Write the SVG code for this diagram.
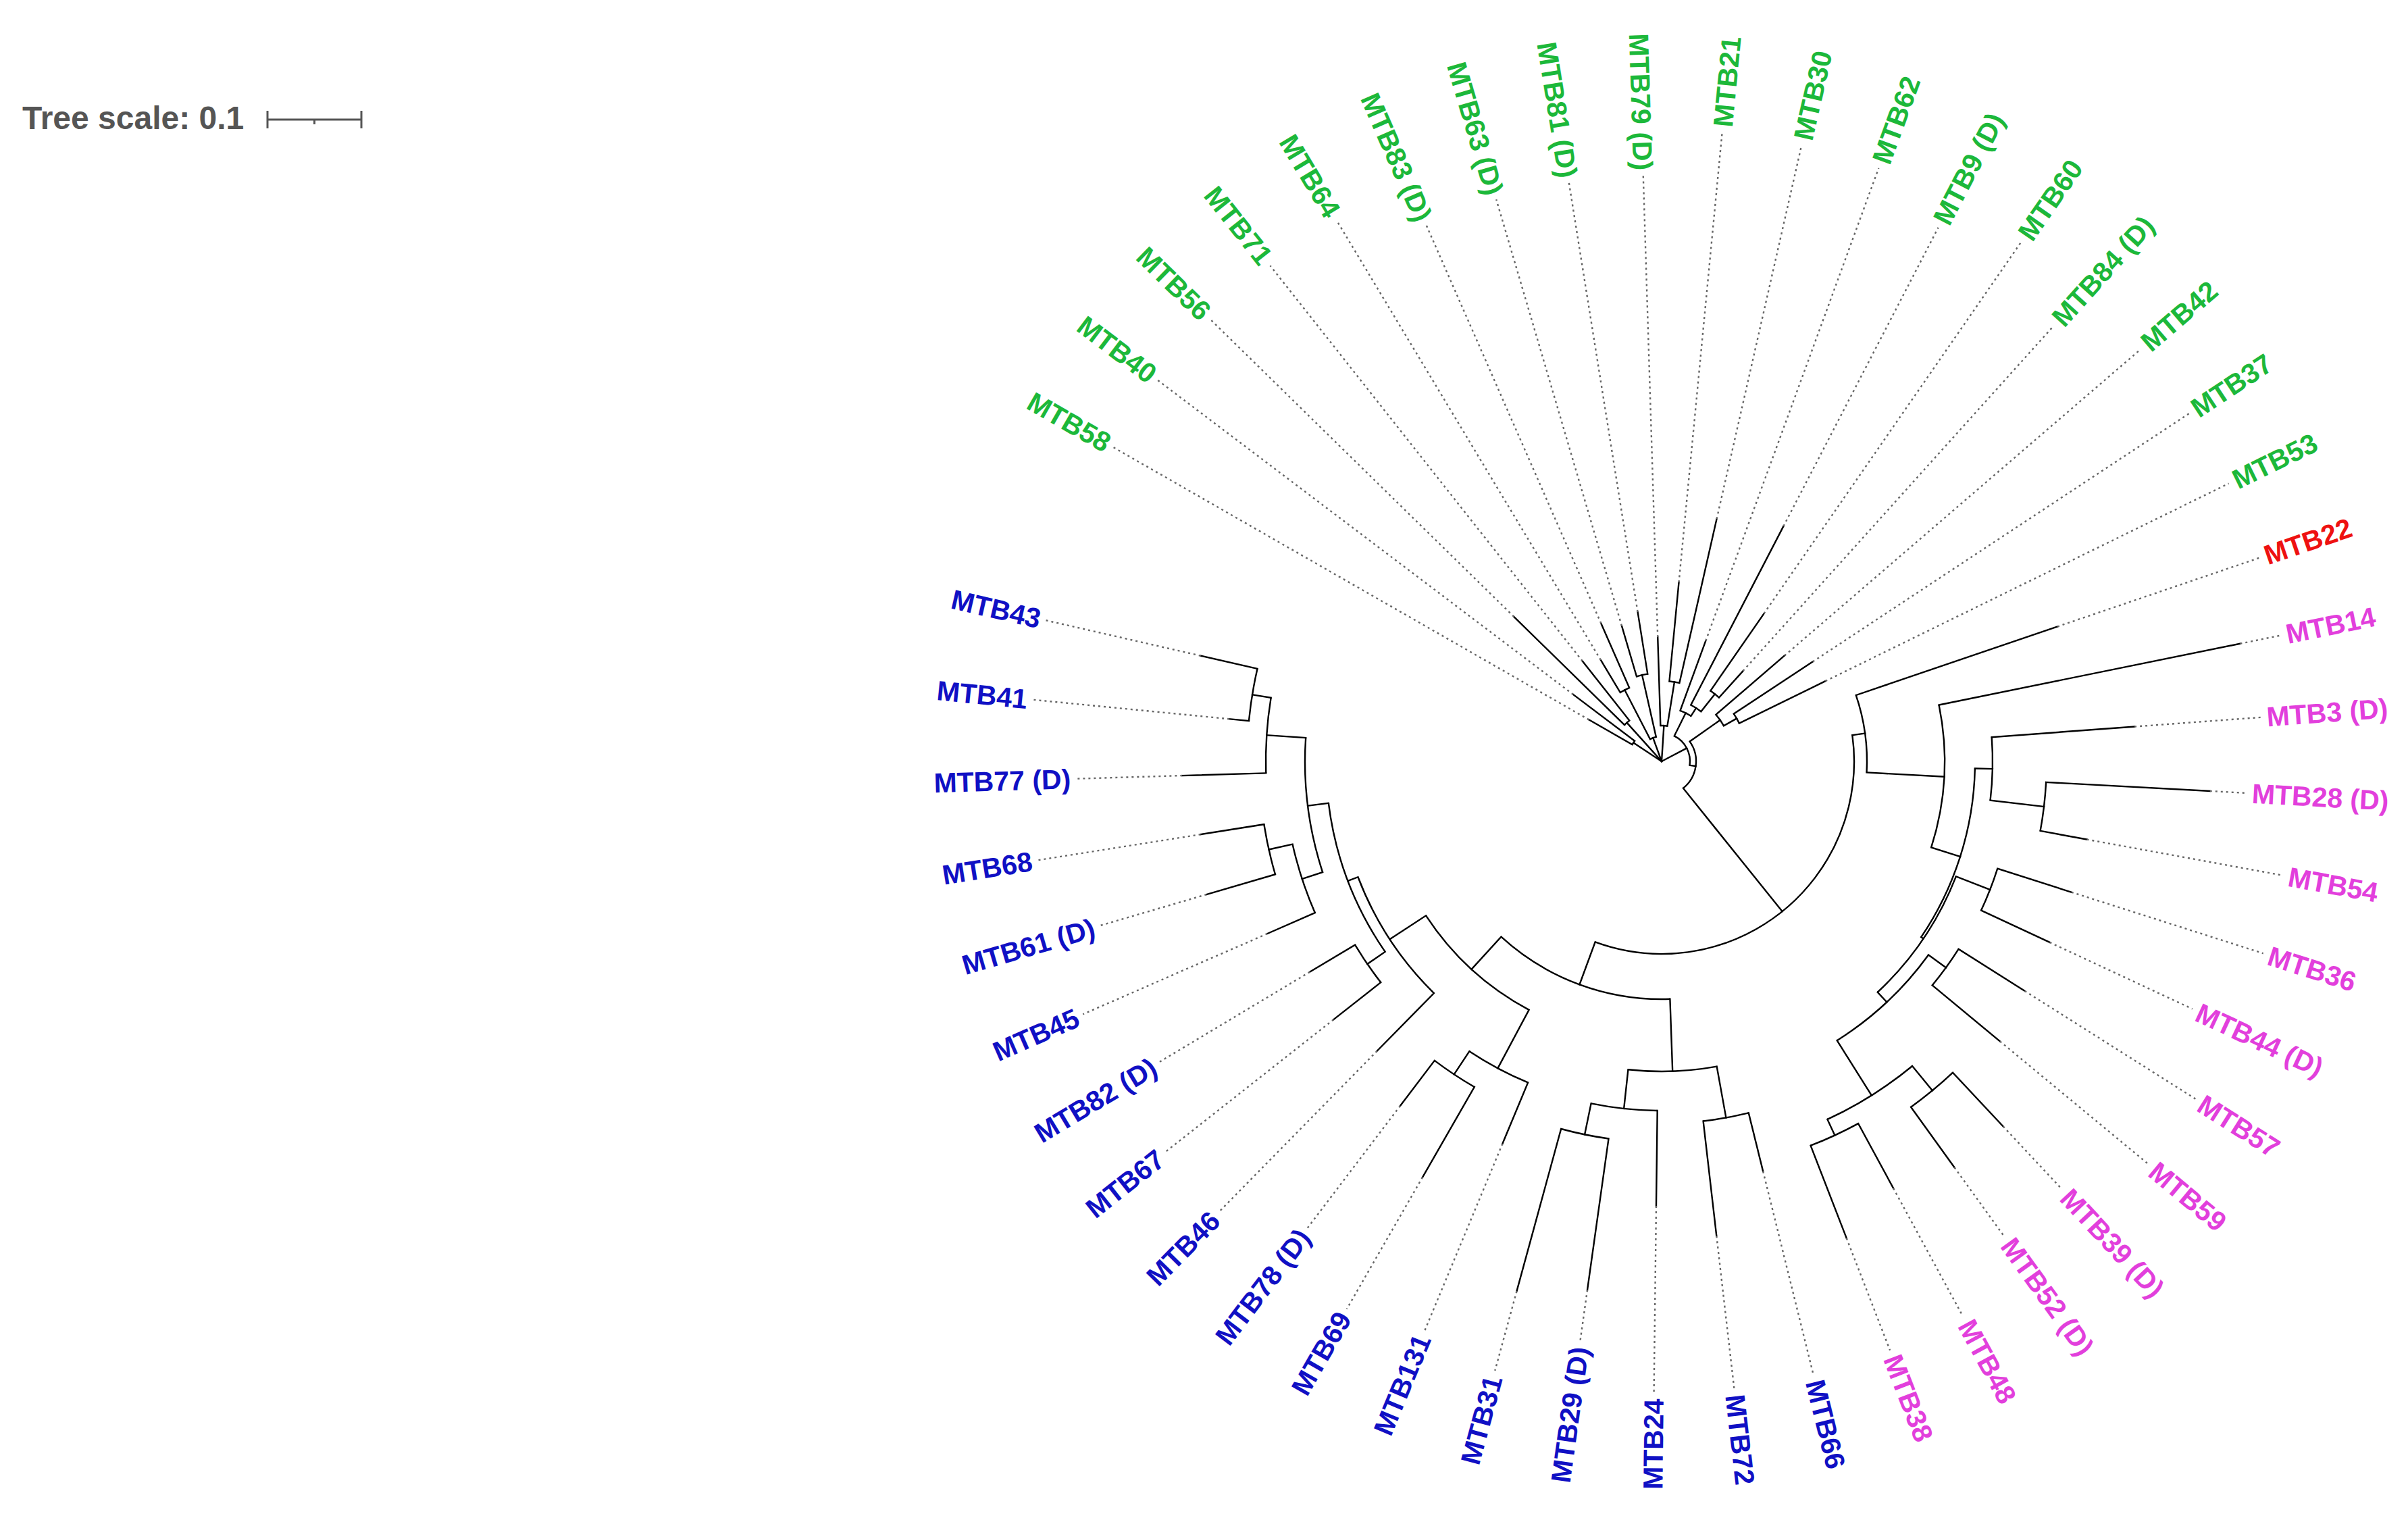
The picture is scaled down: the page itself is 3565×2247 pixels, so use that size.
<svg xmlns="http://www.w3.org/2000/svg" width="3565" height="2247" viewBox="0 0 3565 2247">
<style>
.br line{stroke:#000;stroke-width:2.4;fill:none;stroke-linecap:square}
.ar circle{stroke:#000;stroke-width:2.4;fill:none}
.dt line{stroke:#666;stroke-width:2.4;stroke-dasharray:3 5}
.lb{font-family:"Liberation Sans",Arial,sans-serif;font-weight:bold;font-size:41px}
.g{fill:#1cb83a}.b{fill:#1010c4}.m{fill:#e23fdc}.r{fill:#ee1111}
</style>
<rect width="3565" height="2247" fill="#fff"/>
<g id="tree-scale">
<text x="33" y="191" font-family="'Liberation Sans',Arial,sans-serif" font-weight="bold" font-size="48" fill="#555">Tree scale: 0.1</text>
<g stroke="#555" stroke-width="3">
<line x1="396" y1="177" x2="535" y2="177"/>
<line x1="396" y1="164" x2="396" y2="190"/>
<line x1="535" y1="164" x2="535" y2="190"/>
<line x1="465.5" y1="177" x2="465.5" y2="184"/>
</g>
</g>
<g transform="translate(2460 1127)">
<g id="connectors">
<g class="br">
<line x1="0" x2="50" transform="rotate(213.45)"/>
<line x1="50" x2="124" transform="rotate(209.8)"/>
<line x1="50" x2="164" transform="rotate(217.1)"/>
<line x1="0" x2="77" transform="rotate(228.05)"/>
<line x1="77" x2="306" transform="rotate(224.4)"/>
<line x1="77" x2="189" transform="rotate(231.7)"/>
<line x1="0" x2="37" transform="rotate(249.95)"/>
<line x1="37" x2="119" transform="rotate(242.65)"/>
<line x1="119" x2="175" transform="rotate(239)"/>
<line x1="119" x2="223" transform="rotate(246.3)"/>
<line x1="37" x2="131" transform="rotate(257.25)"/>
<line x1="131" x2="209" transform="rotate(253.6)"/>
<line x1="131" x2="224" transform="rotate(260.9)"/>
<line x1="0" x2="53" transform="rotate(273.7)"/>
<line x1="53" x2="184" transform="rotate(268.2)"/>
<line x1="53" x2="119" transform="rotate(279.15)"/>
<line x1="119" x2="266" transform="rotate(275.5)"/>
<line x1="119" x2="368" transform="rotate(282.8)"/>
<line x1="0" x2="42" transform="rotate(332.25)"/>
<line x1="42" x2="80" transform="rotate(296.5)"/>
<line x1="80" x2="190" transform="rotate(290.1)"/>
<line x1="80" x2="94" transform="rotate(302.9)"/>
<line x1="94" x2="392" transform="rotate(297.4)"/>
<line x1="94" x2="127" transform="rotate(308.35)"/>
<line x1="127" x2="266" transform="rotate(304.7)"/>
<line x1="127" x2="180" transform="rotate(312)"/>
<line x1="42" x2="51" transform="rotate(368)"/>
<line x1="51" x2="106" transform="rotate(324.8)"/>
<line x1="106" x2="240" transform="rotate(319.3)"/>
<line x1="106" x2="128" transform="rotate(330.25)"/>
<line x1="128" x2="268" transform="rotate(326.6)"/>
<line x1="128" x2="270" transform="rotate(333.9)"/>
<line x1="51" x2="285" transform="rotate(411.2)"/>
<line x1="285" x2="304" transform="rotate(352.15)"/>
<line x1="304" x2="619" transform="rotate(341.2)"/>
<line x1="304" x2="419" transform="rotate(363.1)"/>
<line x1="419" x2="874" transform="rotate(348.5)"/>
<line x1="419" x2="464" transform="rotate(377.7)"/>
<line x1="464" x2="490" transform="rotate(361.3)"/>
<line x1="490" x2="702" transform="rotate(355.8)"/>
<line x1="490" x2="570" transform="rotate(366.75)"/>
<line x1="570" x2="813" transform="rotate(363.1)"/>
<line x1="570" x2="640" transform="rotate(370.4)"/>
<line x1="464" x2="468" transform="rotate(394.1)"/>
<line x1="468" x2="522" transform="rotate(381.35)"/>
<line x1="522" x2="637" transform="rotate(377.7)"/>
<line x1="522" x2="634" transform="rotate(385)"/>
<line x1="468" x2="488" transform="rotate(406.9)"/>
<line x1="488" x2="520" transform="rotate(395.95)"/>
<line x1="520" x2="636" transform="rotate(392.3)"/>
<line x1="520" x2="650" transform="rotate(399.6)"/>
<line x1="488" x2="584" transform="rotate(417.85)"/>
<line x1="584" x2="631" transform="rotate(410.55)"/>
<line x1="631" x2="740" transform="rotate(406.9)"/>
<line x1="631" x2="741" transform="rotate(414.2)"/>
<line x1="584" x2="610" transform="rotate(425.15)"/>
<line x1="610" x2="719" transform="rotate(421.5)"/>
<line x1="610" x2="757" transform="rotate(428.8)"/>
<line x1="285" x2="352" transform="rotate(470.2)"/>
<line x1="352" x2="459" transform="rotate(447.98)"/>
<line x1="459" x2="536" transform="rotate(439.75)"/>
<line x1="536" x2="625" transform="rotate(436.1)"/>
<line x1="536" x2="707" transform="rotate(443.4)"/>
<line x1="459" x2="517" transform="rotate(456.2)"/>
<line x1="517" x2="658" transform="rotate(450.7)"/>
<line x1="517" x2="564" transform="rotate(461.65)"/>
<line x1="564" x2="790" transform="rotate(458)"/>
<line x1="564" x2="813" transform="rotate(465.3)"/>
<line x1="352" x2="417" transform="rotate(492.45)"/>
<line x1="417" x2="515" transform="rotate(478.1)"/>
<line x1="515" x2="613" transform="rotate(472.6)"/>
<line x1="515" x2="556" transform="rotate(483.55)"/>
<line x1="556" x2="710" transform="rotate(479.9)"/>
<line x1="556" x2="640" transform="rotate(487.2)"/>
<line x1="417" x2="481" transform="rotate(506.8)"/>
<line x1="481" x2="601" transform="rotate(494.5)"/>
<line x1="481" x2="497" transform="rotate(519.15)"/>
<line x1="497" x2="529" transform="rotate(505.45)"/>
<line x1="529" x2="618" transform="rotate(501.8)"/>
<line x1="529" x2="607" transform="rotate(509.1)"/>
<line x1="497" x2="528" transform="rotate(532.85)"/>
<line x1="528" x2="560" transform="rotate(521.9)"/>
<line x1="560" x2="637" transform="rotate(516.4)"/>
<line x1="560" x2="596" transform="rotate(527.35)"/>
<line x1="596" x2="702" transform="rotate(523.7)"/>
<line x1="596" x2="691" transform="rotate(531)"/>
<line x1="528" x2="586" transform="rotate(543.8)"/>
<line x1="586" x2="710" transform="rotate(538.3)"/>
<line x1="586" x2="614" transform="rotate(549.25)"/>
<line x1="614" x2="643" transform="rotate(545.6)"/>
<line x1="614" x2="700" transform="rotate(552.9)"/>
</g>
<g class="ar">
<circle r="50" pathLength="360" stroke-dasharray="7.3 360" transform="rotate(209.8)"/>
<circle r="77" pathLength="360" stroke-dasharray="7.3 360" transform="rotate(224.4)"/>
<circle r="37" pathLength="360" stroke-dasharray="14.6 360" transform="rotate(242.65)"/>
<circle r="119" pathLength="360" stroke-dasharray="7.3 360" transform="rotate(239)"/>
<circle r="131" pathLength="360" stroke-dasharray="7.3 360" transform="rotate(253.6)"/>
<circle r="53" pathLength="360" stroke-dasharray="10.95 360" transform="rotate(268.2)"/>
<circle r="119" pathLength="360" stroke-dasharray="7.3 360" transform="rotate(275.5)"/>
<circle r="42" pathLength="360" stroke-dasharray="71.5 360" transform="rotate(296.5)"/>
<circle r="80" pathLength="360" stroke-dasharray="12.8 360" transform="rotate(290.1)"/>
<circle r="94" pathLength="360" stroke-dasharray="10.95 360" transform="rotate(297.4)"/>
<circle r="127" pathLength="360" stroke-dasharray="7.3 360" transform="rotate(304.7)"/>
<circle r="51" pathLength="360" stroke-dasharray="86.4 360" transform="rotate(324.8)"/>
<circle r="106" pathLength="360" stroke-dasharray="10.95 360" transform="rotate(319.3)"/>
<circle r="128" pathLength="360" stroke-dasharray="7.3 360" transform="rotate(326.6)"/>
<circle r="285" pathLength="360" stroke-dasharray="118.05 360" transform="rotate(352.15)"/>
<circle r="304" pathLength="360" stroke-dasharray="21.9 360" transform="rotate(341.2)"/>
<circle r="419" pathLength="360" stroke-dasharray="29.2 360" transform="rotate(348.5)"/>
<circle r="464" pathLength="360" stroke-dasharray="32.8 360" transform="rotate(361.3)"/>
<circle r="490" pathLength="360" stroke-dasharray="10.95 360" transform="rotate(355.8)"/>
<circle r="570" pathLength="360" stroke-dasharray="7.3 360" transform="rotate(363.1)"/>
<circle r="468" pathLength="360" stroke-dasharray="25.55 360" transform="rotate(381.35)"/>
<circle r="522" pathLength="360" stroke-dasharray="7.3 360" transform="rotate(377.7)"/>
<circle r="488" pathLength="360" stroke-dasharray="21.9 360" transform="rotate(395.95)"/>
<circle r="520" pathLength="360" stroke-dasharray="7.3 360" transform="rotate(392.3)"/>
<circle r="584" pathLength="360" stroke-dasharray="14.6 360" transform="rotate(410.55)"/>
<circle r="631" pathLength="360" stroke-dasharray="7.3 360" transform="rotate(406.9)"/>
<circle r="610" pathLength="360" stroke-dasharray="7.3 360" transform="rotate(421.5)"/>
<circle r="352" pathLength="360" stroke-dasharray="44.47 360" transform="rotate(447.98)"/>
<circle r="459" pathLength="360" stroke-dasharray="16.45 360" transform="rotate(439.75)"/>
<circle r="536" pathLength="360" stroke-dasharray="7.3 360" transform="rotate(436.1)"/>
<circle r="517" pathLength="360" stroke-dasharray="10.95 360" transform="rotate(450.7)"/>
<circle r="564" pathLength="360" stroke-dasharray="7.3 360" transform="rotate(458)"/>
<circle r="417" pathLength="360" stroke-dasharray="28.7 360" transform="rotate(478.1)"/>
<circle r="515" pathLength="360" stroke-dasharray="10.95 360" transform="rotate(472.6)"/>
<circle r="556" pathLength="360" stroke-dasharray="7.3 360" transform="rotate(479.9)"/>
<circle r="481" pathLength="360" stroke-dasharray="24.65 360" transform="rotate(494.5)"/>
<circle r="497" pathLength="360" stroke-dasharray="27.4 360" transform="rotate(505.45)"/>
<circle r="529" pathLength="360" stroke-dasharray="7.3 360" transform="rotate(501.8)"/>
<circle r="528" pathLength="360" stroke-dasharray="21.9 360" transform="rotate(521.9)"/>
<circle r="560" pathLength="360" stroke-dasharray="10.95 360" transform="rotate(516.4)"/>
<circle r="596" pathLength="360" stroke-dasharray="7.3 360" transform="rotate(523.7)"/>
<circle r="586" pathLength="360" stroke-dasharray="10.95 360" transform="rotate(538.3)"/>
<circle r="614" pathLength="360" stroke-dasharray="7.3 360" transform="rotate(545.6)"/>
</g>
<g class="dt">
<line x1="124" x2="935" transform="rotate(209.8)"/>
<line x1="164" x2="935" transform="rotate(217.1)"/>
<line x1="306" x2="935" transform="rotate(224.4)"/>
<line x1="189" x2="935" transform="rotate(231.7)"/>
<line x1="175" x2="935" transform="rotate(239)"/>
<line x1="223" x2="867" transform="rotate(246.3)"/>
<line x1="209" x2="867" transform="rotate(253.6)"/>
<line x1="224" x2="867" transform="rotate(260.9)"/>
<line x1="184" x2="867" transform="rotate(268.2)"/>
<line x1="266" x2="935" transform="rotate(275.5)"/>
<line x1="368" x2="935" transform="rotate(282.8)"/>
<line x1="190" x2="935" transform="rotate(290.1)"/>
<line x1="392" x2="890" transform="rotate(297.4)"/>
<line x1="266" x2="935" transform="rotate(304.7)"/>
<line x1="180" x2="867" transform="rotate(312)"/>
<line x1="240" x2="935" transform="rotate(319.3)"/>
<line x1="268" x2="935" transform="rotate(326.6)"/>
<line x1="270" x2="935" transform="rotate(333.9)"/>
<line x1="619" x2="935" transform="rotate(341.2)"/>
<line x1="874" x2="935" transform="rotate(348.5)"/>
<line x1="702" x2="890" transform="rotate(355.8)"/>
<line x1="813" x2="867" transform="rotate(363.1)"/>
<line x1="640" x2="935" transform="rotate(370.4)"/>
<line x1="637" x2="935" transform="rotate(377.7)"/>
<line x1="634" x2="867" transform="rotate(385)"/>
<line x1="636" x2="935" transform="rotate(392.3)"/>
<line x1="650" x2="935" transform="rotate(399.6)"/>
<line x1="740" x2="867" transform="rotate(406.9)"/>
<line x1="741" x2="867" transform="rotate(414.2)"/>
<line x1="719" x2="935" transform="rotate(421.5)"/>
<line x1="757" x2="935" transform="rotate(428.8)"/>
<line x1="625" x2="935" transform="rotate(436.1)"/>
<line x1="707" x2="935" transform="rotate(443.4)"/>
<line x1="658" x2="935" transform="rotate(450.7)"/>
<line x1="790" x2="867" transform="rotate(458)"/>
<line x1="813" x2="935" transform="rotate(465.3)"/>
<line x1="613" x2="912" transform="rotate(472.6)"/>
<line x1="710" x2="935" transform="rotate(479.9)"/>
<line x1="640" x2="867" transform="rotate(487.2)"/>
<line x1="601" x2="935" transform="rotate(494.5)"/>
<line x1="618" x2="935" transform="rotate(501.8)"/>
<line x1="607" x2="867" transform="rotate(509.1)"/>
<line x1="637" x2="935" transform="rotate(516.4)"/>
<line x1="702" x2="867" transform="rotate(523.7)"/>
<line x1="691" x2="935" transform="rotate(531)"/>
<line x1="710" x2="867" transform="rotate(538.3)"/>
<line x1="643" x2="935" transform="rotate(545.6)"/>
<line x1="700" x2="935" transform="rotate(552.9)"/>
</g>
</g>
<g class="lb">
<g id="leaf-MTB58" class="g"><text transform="rotate(29.8)" x="-1078" dy=".35em">MTB58</text></g>
<g id="leaf-MTB40" class="g"><text transform="rotate(37.1)" x="-1078" dy=".35em">MTB40</text></g>
<g id="leaf-MTB56" class="g"><text transform="rotate(44.4)" x="-1078" dy=".35em">MTB56</text></g>
<g id="leaf-MTB71" class="g"><text transform="rotate(51.7)" x="-1078" dy=".35em">MTB71</text></g>
<g id="leaf-MTB64" class="g"><text transform="rotate(59)" x="-1078" dy=".35em">MTB64</text></g>
<g id="leaf-MTB83" class="g"><text transform="rotate(66.3)" x="-1078" dy=".35em">MTB83 (D)</text></g>
<g id="leaf-MTB63" class="g"><text transform="rotate(73.6)" x="-1078" dy=".35em">MTB63 (D)</text></g>
<g id="leaf-MTB81" class="g"><text transform="rotate(80.9)" x="-1078" dy=".35em">MTB81 (D)</text></g>
<g id="leaf-MTB79" class="g"><text transform="rotate(88.2)" x="-1078" dy=".35em">MTB79 (D)</text></g>
<g id="leaf-MTB21" class="g"><text transform="rotate(275.5)" x="1078" dy=".35em" text-anchor="end">MTB21</text></g>
<g id="leaf-MTB30" class="g"><text transform="rotate(282.8)" x="1078" dy=".35em" text-anchor="end">MTB30</text></g>
<g id="leaf-MTB62" class="g"><text transform="rotate(290.1)" x="1078" dy=".35em" text-anchor="end">MTB62</text></g>
<g id="leaf-MTB9" class="g"><text transform="rotate(297.4)" x="1078" dy=".35em" text-anchor="end">MTB9 (D)</text></g>
<g id="leaf-MTB60" class="g"><text transform="rotate(304.7)" x="1078" dy=".35em" text-anchor="end">MTB60</text></g>
<g id="leaf-MTB84" class="g"><text transform="rotate(312)" x="1078" dy=".35em" text-anchor="end">MTB84 (D)</text></g>
<g id="leaf-MTB42" class="g"><text transform="rotate(319.3)" x="1078" dy=".35em" text-anchor="end">MTB42</text></g>
<g id="leaf-MTB37" class="g"><text transform="rotate(326.6)" x="1078" dy=".35em" text-anchor="end">MTB37</text></g>
<g id="leaf-MTB53" class="g"><text transform="rotate(333.9)" x="1078" dy=".35em" text-anchor="end">MTB53</text></g>
<g id="leaf-MTB22" class="r"><text transform="rotate(341.2)" x="1078" dy=".35em" text-anchor="end">MTB22</text></g>
<g id="leaf-MTB14" class="m"><text transform="rotate(348.5)" x="1078" dy=".35em" text-anchor="end">MTB14</text></g>
<g id="leaf-MTB3" class="m"><text transform="rotate(355.8)" x="1078" dy=".35em" text-anchor="end">MTB3 (D)</text></g>
<g id="leaf-MTB28" class="m"><text transform="rotate(3.1)" x="1078" dy=".35em" text-anchor="end">MTB28 (D)</text></g>
<g id="leaf-MTB54" class="m"><text transform="rotate(10.4)" x="1078" dy=".35em" text-anchor="end">MTB54</text></g>
<g id="leaf-MTB36" class="m"><text transform="rotate(17.7)" x="1078" dy=".35em" text-anchor="end">MTB36</text></g>
<g id="leaf-MTB44" class="m"><text transform="rotate(25)" x="1078" dy=".35em" text-anchor="end">MTB44 (D)</text></g>
<g id="leaf-MTB57" class="m"><text transform="rotate(32.3)" x="1078" dy=".35em" text-anchor="end">MTB57</text></g>
<g id="leaf-MTB59" class="m"><text transform="rotate(39.6)" x="1078" dy=".35em" text-anchor="end">MTB59</text></g>
<g id="leaf-MTB39" class="m"><text transform="rotate(46.9)" x="1078" dy=".35em" text-anchor="end">MTB39 (D)</text></g>
<g id="leaf-MTB52" class="m"><text transform="rotate(54.2)" x="1078" dy=".35em" text-anchor="end">MTB52 (D)</text></g>
<g id="leaf-MTB48" class="m"><text transform="rotate(61.5)" x="1078" dy=".35em" text-anchor="end">MTB48</text></g>
<g id="leaf-MTB38" class="m"><text transform="rotate(68.8)" x="1078" dy=".35em" text-anchor="end">MTB38</text></g>
<g id="leaf-MTB66" class="b"><text transform="rotate(76.1)" x="1078" dy=".35em" text-anchor="end">MTB66</text></g>
<g id="leaf-MTB72" class="b"><text transform="rotate(83.4)" x="1078" dy=".35em" text-anchor="end">MTB72</text></g>
<g id="leaf-MTB24" class="b"><text transform="rotate(-89.3)" x="-1078" dy=".35em">MTB24</text></g>
<g id="leaf-MTB29" class="b"><text transform="rotate(-82)" x="-1078" dy=".35em">MTB29 (D)</text></g>
<g id="leaf-MTB31" class="b"><text transform="rotate(-74.7)" x="-1078" dy=".35em">MTB31</text></g>
<g id="leaf-MTB131" class="b"><text transform="rotate(-67.4)" x="-1078" dy=".35em">MTB131</text></g>
<g id="leaf-MTB69" class="b"><text transform="rotate(-60.1)" x="-1078" dy=".35em">MTB69</text></g>
<g id="leaf-MTB78" class="b"><text transform="rotate(-52.8)" x="-1078" dy=".35em">MTB78 (D)</text></g>
<g id="leaf-MTB46" class="b"><text transform="rotate(-45.5)" x="-1078" dy=".35em">MTB46</text></g>
<g id="leaf-MTB67" class="b"><text transform="rotate(-38.2)" x="-1078" dy=".35em">MTB67</text></g>
<g id="leaf-MTB82" class="b"><text transform="rotate(-30.9)" x="-1078" dy=".35em">MTB82 (D)</text></g>
<g id="leaf-MTB45" class="b"><text transform="rotate(-23.6)" x="-1078" dy=".35em">MTB45</text></g>
<g id="leaf-MTB61" class="b"><text transform="rotate(-16.3)" x="-1078" dy=".35em">MTB61 (D)</text></g>
<g id="leaf-MTB68" class="b"><text transform="rotate(-9)" x="-1078" dy=".35em">MTB68</text></g>
<g id="leaf-MTB77" class="b"><text transform="rotate(-1.7)" x="-1078" dy=".35em">MTB77 (D)</text></g>
<g id="leaf-MTB41" class="b"><text transform="rotate(5.6)" x="-1078" dy=".35em">MTB41</text></g>
<g id="leaf-MTB43" class="b"><text transform="rotate(12.9)" x="-1078" dy=".35em">MTB43</text></g>
</g>
</g>
</svg>
